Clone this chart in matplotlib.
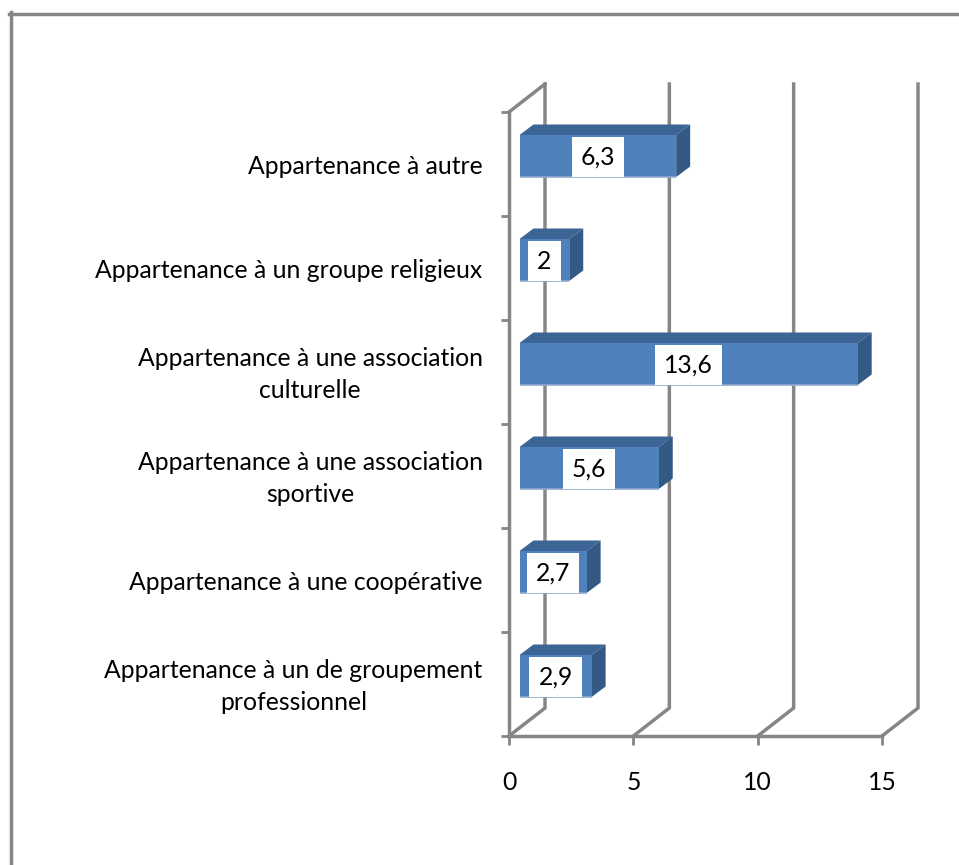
import matplotlib
matplotlib.use("Agg")
import matplotlib.pyplot as plt
from matplotlib.lines import Line2D
from matplotlib.patches import Polygon, Rectangle
from matplotlib.transforms import ScaledTranslation

categories = [
    "Appartenance à un de groupement\nprofessionnel",
    "Appartenance à une coopérative",
    "Appartenance à une association\nsportive",
    "Appartenance à une association\nculturelle",
    "Appartenance à un groupe religieux",
    "Appartenance à autre",
]
values = [2.9, 2.7, 5.6, 13.6, 2, 6.3]
value_labels = ["2,9", "2,7", "5,6", "13,6", "2", "6,3"]
x_ticks = [0, 5, 10, 15]

W, H = 959, 865
GRAY = "#868686"
FRONT, TOP, SIDE, EDGE = "#4F81BD", "#3C6494", "#335A85", "#8FAACD"
FS = 17.8
LW = 2.5
plt.rcParams["font.family"] = ["Lato", "DejaVu Sans"]

fig = plt.figure(figsize=(W / 100, H / 100), dpi=100, facecolor="white")
ax = fig.add_axes([509 / W, 1 - 736 / H, 373 / W, 624 / H])
ax.set_xlim(0, 15)
ax.set_ylim(0, 6)
ax.patch.set_visible(False)

PX = 15 / 373      # data units per pixel, x
PY = 6 / 624       # data units per pixel, y
DX, DY = 36 * PX, 28 * PY          # wall depth
BX, BY = 14 * PX, 10.5 * PY        # bar depth
OX, OY = 10.5 * PX, 39 * PY        # bar inset from the row corner
BAR_H = 42 * PY

# back wall and floor
for t in x_ticks:
    ax.plot([t, t + DX, t + DX], [0, DY, 6 + DY], color=GRAY, lw=LW, clip_on=False,
            solid_joinstyle="miter", zorder=1)
ax.plot([0, DX], [6, 6 + DY], color=GRAY, lw=LW, clip_on=False, zorder=1)

# bars
renderer = fig.canvas.get_renderer()
for i, (v, lab) in enumerate(zip(values, value_labels)):
    x0, x1 = OX, OX + v
    y0, y1 = i + OY, i + OY + BAR_H
    ax.add_patch(Polygon([(x0, y1), (x1, y1), (x1 + BX, y1 + BY), (x0 + BX, y1 + BY)],
                         closed=True, fc=TOP, ec="none", zorder=3, clip_on=False))
    ax.add_patch(Polygon([(x1, y0), (x1 + BX, y0 + BY), (x1 + BX, y1 + BY), (x1, y1)],
                         closed=True, fc=SIDE, ec="none", zorder=3, clip_on=False))
    ax.add_patch(Rectangle((x0, y0), v, BAR_H, fc=FRONT, ec="none", zorder=3, clip_on=False))
    ax.plot([x0, x1], [y0, y0], color=EDGE, lw=1.2, zorder=4, clip_on=False,
            solid_capstyle="butt")
    xc = (x0 + x1) / 2
    yc = (y0 + y1) / 2
    txt = ax.text(xc, yc - 1 * PY, lab, ha="center", va="center", fontsize=FS, color="black", zorder=6)
    tw = txt.get_window_extent(renderer).width
    bw = (tw + 18) * PX
    ax.add_patch(Rectangle((xc - bw / 2, y0), bw, BAR_H - 1.5 * PY, fc="white", ec="none",
                           zorder=5, clip_on=False))

# front axes
for s in ("top", "right"):
    ax.spines[s].set_visible(False)
for s in ("left", "bottom"):
    ax.spines[s].set_color(GRAY)
    ax.spines[s].set_linewidth(LW)
    ax.spines[s].set_zorder(2)
ax.set_xticks(x_ticks)
ax.set_xticklabels([str(t) for t in x_ticks], fontsize=FS)
ax.set_yticks(range(7))
ax.set_yticklabels([])
ax.set_yticks([i + 0.5 for i in range(6)], minor=True)
ax.set_yticklabels(categories, minor=True, fontsize=FS, ha="right", multialignment="center",
                   linespacing=1.5)
ax.tick_params(axis="y", which="major", length=5.5, width=2, color=GRAY)
ax.tick_params(axis="y", which="minor", length=0, pad=19)
ax.tick_params(axis="x", length=6.5, width=2, color=GRAY, pad=19)

# two-line labels sit a little higher than single-line ones
lift = ScaledTranslation(0, 4 / 100, fig.dpi_scale_trans)
for lbl in ax.get_yticklabels(minor=True):
    if "\n" in lbl.get_text():
        lbl.set_transform(lbl.get_transform() + lift)

# outer frame (open at right and bottom)
fig.add_artist(Line2D([9 / W, 1], [1 - 13.5 / H, 1 - 13.5 / H], color=GRAY, lw=LW,
                      transform=fig.transFigure))
fig.add_artist(Line2D([10.5 / W, 10.5 / W], [1 - 12 / H, 0], color=GRAY, lw=LW,
                      transform=fig.transFigure))

fig.savefig("out.png", dpi=100, facecolor="white")
